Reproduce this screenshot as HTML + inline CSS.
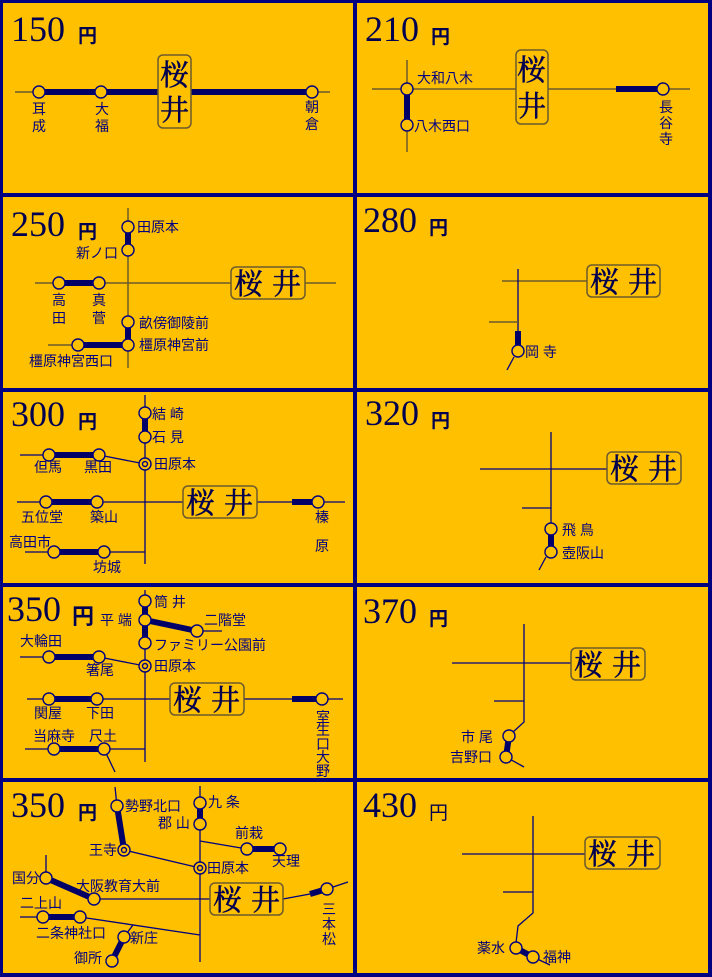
<!DOCTYPE html>
<html><head><meta charset="utf-8"><style>
html,body{margin:0;padding:0;background:#000080;}
svg{display:block}
.p{font-family:"Liberation Serif",serif;font-size:36px;fill:#000050}
.y{font-family:"Liberation Sans","Noto Sans CJK JP",sans-serif;font-size:19px;font-weight:bold;fill:#000050}
.l{font-family:"Liberation Sans","Noto Sans CJK JP",sans-serif;font-size:14px;fill:#000080}
.b{font-family:"Noto Serif CJK SC","Liberation Serif",serif;font-size:29px;fill:#000050;stroke:#000050;stroke-width:0.5}
.t{stroke:#6b5a2e;stroke-width:1.5;fill:none}
.n{stroke:#000080;stroke-width:1.3;fill:none}
.k{stroke:#000066;stroke-width:6;fill:none}
.c{fill:#FFC000;stroke:#000080;stroke-width:1.4}
.bx{fill:#FFC000;stroke:#6b5a2e;stroke-width:1.5}
</style></head><body>
<svg width="712" height="977" xmlns="http://www.w3.org/2000/svg">
<rect width="712" height="977" fill="#000080"/>
<g fill="#FFC000">
<rect x="3" y="3" width="350" height="190"/><rect x="357" y="3" width="351" height="190"/>
<rect x="3" y="197" width="350" height="191"/><rect x="357" y="197" width="351" height="191"/>
<rect x="3" y="392" width="350" height="191"/><rect x="357" y="392" width="351" height="191"/>
<rect x="3" y="587" width="350" height="191"/><rect x="357" y="587" width="351" height="191"/>
<rect x="3" y="782" width="350" height="191"/><rect x="357" y="782" width="351" height="191"/>
</g>
<!-- prices -->
<text class="p" x="11" y="41">150</text><text class="y" x="78" y="42">円</text>
<text class="p" x="365" y="41">210</text><text class="y" x="431" y="43">円</text>
<text class="p" x="11" y="236">250</text><text class="y" x="78" y="238">円</text>
<text class="p" x="363" y="232">280</text><text class="y" x="429" y="234">円</text>
<text class="p" x="11" y="426">300</text><text class="y" x="78" y="428">円</text>
<text class="p" x="365" y="425">320</text><text class="y" x="431" y="427">円</text>
<text class="p" x="7" y="621">350</text><text class="y" x="72" y="624" style="font-size:22px">円</text>
<text class="p" x="363" y="623">370</text><text class="y" x="429" y="625">円</text>
<text class="p" x="11" y="817">350</text><text class="y" x="78" y="819">円</text>
<text class="p" x="363" y="817">430</text><text class="y" x="429" y="819" style="font-weight:normal">円</text>

<!-- 150 -->
<line class="t" x1="15" y1="92" x2="330" y2="92"/>
<line class="k" x1="39" y1="92" x2="312" y2="92"/>
<rect class="bx" x="158" y="55" width="33" height="73" rx="5"/>
<text class="b" x="160" y="85">桜</text><text class="b" x="160" y="120">井</text>
<circle class="c" cx="39" cy="92" r="6"/><circle class="c" cx="101" cy="92" r="6"/><circle class="c" cx="312" cy="92" r="6"/>
<text class="l" x="32" y="114">耳</text><text class="l" x="32" y="131">成</text>
<text class="l" x="95" y="114">大</text><text class="l" x="95" y="131">福</text>
<text class="l" x="305" y="112">朝</text><text class="l" x="305" y="129">倉</text>

<!-- 210 -->
<line class="t" x1="372" y1="89" x2="690" y2="89"/>
<line class="t" x1="407" y1="60" x2="407" y2="152"/>
<line class="k" x1="407" y1="89" x2="407" y2="125"/>
<line class="k" x1="616" y1="89" x2="663" y2="89"/>
<rect class="bx" x="516" y="50" width="32" height="74" rx="5"/>
<text class="b" x="517" y="80">桜</text><text class="b" x="517" y="116">井</text>
<circle class="c" cx="407" cy="89" r="6"/><circle class="c" cx="407" cy="125" r="6"/><circle class="c" cx="663" cy="89" r="6"/>
<text class="l" x="417" y="83">大和八木</text><text class="l" x="414" y="131">八木西口</text>
<text class="l" x="659" y="112">長</text><text class="l" x="659" y="128">谷</text><text class="l" x="659" y="144">寺</text>

<!-- 250 -->
<line class="t" x1="35" y1="283" x2="336" y2="283"/>
<line class="t" x1="128" y1="208" x2="128" y2="368"/>
<line class="t" x1="48" y1="345" x2="78" y2="345"/>
<line class="k" x1="128" y1="227" x2="128" y2="250"/>
<line class="k" x1="59" y1="283" x2="99" y2="283"/>
<line class="k" x1="128" y1="322" x2="128" y2="345"/>
<line class="k" x1="78" y1="345" x2="128" y2="345"/>
<rect class="bx" x="231" y="267" width="74" height="32" rx="5"/>
<text class="b" x="234" y="294">桜</text><text class="b" x="272" y="294">井</text>
<circle class="c" cx="128" cy="227" r="6"/><circle class="c" cx="128" cy="250" r="6"/><circle class="c" cx="59" cy="283" r="6"/><circle class="c" cx="99" cy="283" r="6"/><circle class="c" cx="128" cy="322" r="6"/><circle class="c" cx="128" cy="345" r="6"/><circle class="c" cx="78" cy="345" r="6"/>
<text class="l" x="137" y="232">田原本</text><text class="l" x="76" y="258">新ノ口</text>
<text class="l" x="52" y="305">高</text><text class="l" x="52" y="323">田</text>
<text class="l" x="92" y="305">真</text><text class="l" x="92" y="323">菅</text>
<text class="l" x="139" y="328">畝傍御陵前</text><text class="l" x="139" y="350">橿原神宮前</text>
<text class="l" x="29" y="366">橿原神宮西口</text>

<!-- 280 -->
<line class="t" x1="502" y1="281" x2="588" y2="281"/>
<line class="n" x1="518" y1="269" x2="518" y2="348"/>
<line class="t" x1="489" y1="322" x2="518" y2="322"/>
<line class="k" x1="518" y1="331" x2="518" y2="347"/>
<line class="n" x1="514" y1="357" x2="507" y2="370"/>
<rect class="bx" x="587" y="265" width="73" height="32" rx="5"/>
<text class="b" x="590" y="292">桜</text><text class="b" x="628" y="292">井</text>
<circle class="c" cx="518" cy="351" r="6"/>
<text class="l" x="525" y="357">岡 寺</text>

<!-- 300 -->
<line class="n" x1="145" y1="395" x2="145" y2="564"/>
<line class="k" x1="145" y1="413" x2="145" y2="437"/>
<line class="n" x1="20" y1="455" x2="49" y2="455"/>
<line class="k" x1="49" y1="455" x2="99" y2="455"/>
<line class="n" x1="99" y1="455" x2="145" y2="464"/>
<line class="n" x1="17" y1="502" x2="345" y2="502"/>
<line class="k" x1="46" y1="502" x2="97" y2="502"/>
<line class="k" x1="292" y1="502" x2="318" y2="502"/>
<line class="n" x1="25" y1="552" x2="145" y2="552"/>
<line class="k" x1="54" y1="552" x2="104" y2="552"/>
<rect class="bx" x="183" y="486" width="74" height="32" rx="5"/>
<text class="b" x="186" y="513">桜</text><text class="b" x="224" y="513">井</text>
<circle class="c" cx="145" cy="413" r="6"/><circle class="c" cx="145" cy="437" r="6"/>
<circle class="c" cx="145" cy="464" r="6"/><circle class="c" cx="145" cy="464" r="2.5"/>
<circle class="c" cx="49" cy="455" r="6"/><circle class="c" cx="99" cy="455" r="6"/>
<circle class="c" cx="46" cy="502" r="6"/><circle class="c" cx="97" cy="502" r="6"/><circle class="c" cx="318" cy="502" r="6"/>
<circle class="c" cx="54" cy="552" r="6"/><circle class="c" cx="104" cy="552" r="6"/>
<text class="l" x="152" y="419">結 崎</text><text class="l" x="152" y="442">石 見</text><text class="l" x="154" y="469">田原本</text>
<text class="l" x="34" y="472">但馬</text><text class="l" x="84" y="472">黒田</text>
<text class="l" x="21" y="522">五位堂</text><text class="l" x="90" y="522">築山</text>
<text class="l" x="9" y="547">高田市</text><text class="l" x="93" y="572">坊城</text>
<text class="l" x="315" y="522">榛</text><text class="l" x="315" y="551">原</text>

<!-- 320 -->
<line class="n" x1="480" y1="469" x2="607" y2="469"/>
<line class="n" x1="551" y1="432" x2="551" y2="523"/>
<line class="n" x1="522" y1="508" x2="551" y2="508"/>
<line class="k" x1="551" y1="529" x2="551" y2="552"/>
<line class="n" x1="546" y1="557" x2="539" y2="570"/>
<rect class="bx" x="607" y="452" width="74" height="32" rx="5"/>
<text class="b" x="610" y="479">桜</text><text class="b" x="648" y="479">井</text>
<circle class="c" cx="551" cy="529" r="6"/><circle class="c" cx="551" cy="552" r="6"/>
<text class="l" x="562" y="535">飛 鳥</text><text class="l" x="562" y="558">壺阪山</text>

<!-- 350a -->
<line class="n" x1="145" y1="590" x2="145" y2="762"/>
<line class="k" x1="145" y1="601" x2="145" y2="643"/>
<line class="k" x1="145" y1="620" x2="197" y2="631"/>
<line class="n" x1="197" y1="631" x2="222" y2="631"/>
<line class="n" x1="20" y1="657" x2="49" y2="657"/>
<line class="k" x1="49" y1="657" x2="99" y2="657"/>
<line class="n" x1="99" y1="657" x2="145" y2="666"/>
<line class="n" x1="27" y1="699" x2="343" y2="699"/>
<line class="k" x1="49" y1="699" x2="97" y2="699"/>
<line class="k" x1="292" y1="699" x2="322" y2="699"/>
<line class="n" x1="25" y1="749" x2="145" y2="749"/>
<line class="k" x1="54" y1="749" x2="104" y2="749"/>
<line class="n" x1="104" y1="749" x2="115" y2="772"/>
<rect class="bx" x="170" y="683" width="74" height="32" rx="5"/>
<text class="b" x="173" y="710">桜</text><text class="b" x="211" y="710">井</text>
<circle class="c" cx="145" cy="601" r="6"/><circle class="c" cx="145" cy="620" r="6"/><circle class="c" cx="145" cy="643" r="6"/><circle class="c" cx="197" cy="631" r="6"/>
<circle class="c" cx="145" cy="666" r="6"/><circle class="c" cx="145" cy="666" r="2.5"/>
<circle class="c" cx="49" cy="657" r="6"/><circle class="c" cx="99" cy="657" r="6"/>
<circle class="c" cx="49" cy="699" r="6"/><circle class="c" cx="97" cy="699" r="6"/><circle class="c" cx="322" cy="699" r="6"/>
<circle class="c" cx="54" cy="749" r="6"/><circle class="c" cx="104" cy="749" r="6"/>
<text class="l" x="100" y="625">平 端</text><text class="l" x="154" y="607">筒 井</text><text class="l" x="204" y="625">二階堂</text>
<text class="l" x="154" y="650">ファミリー公園前</text><text class="l" x="154" y="671">田原本</text>
<text class="l" x="20" y="646">大輪田</text><text class="l" x="86" y="675">箸尾</text>
<text class="l" x="34" y="718">関屋</text><text class="l" x="86" y="718">下田</text>
<text class="l" x="33" y="741">当麻寺</text><text class="l" x="89" y="741">尺土</text>
<text class="l" x="316" y="722">室</text><text class="l" x="316" y="735">生</text><text class="l" x="316" y="749">口</text><text class="l" x="316" y="762">大</text><text class="l" x="316" y="776">野</text>

<!-- 370 -->
<line class="n" x1="452" y1="663" x2="571" y2="663"/>
<polyline class="n" points="524,624 524,722 512,733"/>
<line class="n" x1="494" y1="701" x2="524" y2="701"/>
<line class="k" x1="509" y1="736" x2="506" y2="757"/>
<line class="n" x1="506" y1="757" x2="524" y2="767"/>
<rect class="bx" x="571" y="648" width="74" height="32" rx="5"/>
<text class="b" x="574" y="675">桜</text><text class="b" x="612" y="675">井</text>
<circle class="c" cx="509" cy="736" r="6"/><circle class="c" cx="506" cy="757" r="6"/>
<text class="l" x="461" y="742">市 尾</text><text class="l" x="450" y="762">吉野口</text>

<!-- 350b -->
<line class="n" x1="200" y1="786" x2="200" y2="962"/>
<line class="k" x1="200" y1="803" x2="200" y2="824"/>
<line class="n" x1="200" y1="841" x2="247" y2="849"/>
<line class="k" x1="247" y1="849" x2="280" y2="849"/>
<line class="n" x1="115" y1="787" x2="117" y2="806"/>
<line class="k" x1="117" y1="806" x2="124" y2="850"/>
<line class="n" x1="124" y1="850" x2="200" y2="868"/>
<line class="n" x1="46" y1="855" x2="46" y2="878"/>
<line class="k" x1="46" y1="878" x2="94" y2="899"/>
<line class="n" x1="94" y1="899" x2="210" y2="899"/>
<line class="n" x1="283" y1="899" x2="310" y2="894"/>
<line class="k" x1="310" y1="894" x2="327" y2="889"/>
<line class="n" x1="327" y1="889" x2="348" y2="882"/>
<line class="n" x1="20" y1="917" x2="43" y2="917"/>
<line class="k" x1="43" y1="917" x2="80" y2="917"/>
<line class="n" x1="80" y1="917" x2="200" y2="935"/>
<line class="n" x1="133" y1="925" x2="124" y2="937"/>
<line class="k" x1="124" y1="937" x2="112" y2="961"/>
<rect class="bx" x="210" y="883" width="73" height="32" rx="5"/>
<text class="b" x="213" y="910">桜</text><text class="b" x="251" y="910">井</text>
<circle class="c" cx="200" cy="803" r="6"/><circle class="c" cx="200" cy="824" r="6"/>
<circle class="c" cx="200" cy="868" r="6"/><circle class="c" cx="200" cy="868" r="2.5"/>
<circle class="c" cx="247" cy="849" r="6"/><circle class="c" cx="280" cy="849" r="6"/>
<circle class="c" cx="117" cy="806" r="6"/>
<circle class="c" cx="124" cy="850" r="6"/><circle class="c" cx="124" cy="850" r="2.5"/>
<circle class="c" cx="46" cy="878" r="6"/><circle class="c" cx="94" cy="899" r="6"/>
<circle class="c" cx="327" cy="889" r="6"/>
<circle class="c" cx="43" cy="917" r="6"/><circle class="c" cx="80" cy="917" r="6"/>
<circle class="c" cx="124" cy="937" r="6"/><circle class="c" cx="112" cy="961" r="6"/>
<text class="l" x="125" y="811">勢野北口</text><text class="l" x="208" y="807">九 条</text><text class="l" x="158" y="828">郡 山</text>
<text class="l" x="235" y="838">前栽</text><text class="l" x="272" y="866">天理</text>
<text class="l" x="89" y="855">王寺</text><text class="l" x="207" y="873">田原本</text>
<text class="l" x="12" y="883">国分</text><text class="l" x="76" y="891">大阪教育大前</text>
<text class="l" x="20" y="908">二上山</text><text class="l" x="36" y="938">二条神社口</text>
<text class="l" x="130" y="943">新庄</text><text class="l" x="74" y="963">御所</text>
<text class="l" x="322" y="914">三</text><text class="l" x="322" y="929">本</text><text class="l" x="322" y="944">松</text>

<!-- 430 -->
<line class="n" x1="462" y1="854" x2="585" y2="854"/>
<polyline class="n" points="533,816 533,913 518,926 516,943"/>
<line class="n" x1="503" y1="892" x2="533" y2="892"/>
<line class="k" x1="516" y1="948" x2="533" y2="957"/>
<line class="n" x1="533" y1="957" x2="550" y2="965"/>
<rect class="bx" x="585" y="837" width="75" height="32" rx="5"/>
<text class="b" x="588" y="864">桜</text><text class="b" x="626" y="864">井</text>
<circle class="c" cx="516" cy="948" r="6"/><circle class="c" cx="533" cy="957" r="6"/>
<text class="l" x="477" y="953">薬水</text><text class="l" x="543" y="962">福神</text>
</svg>
</body></html>
